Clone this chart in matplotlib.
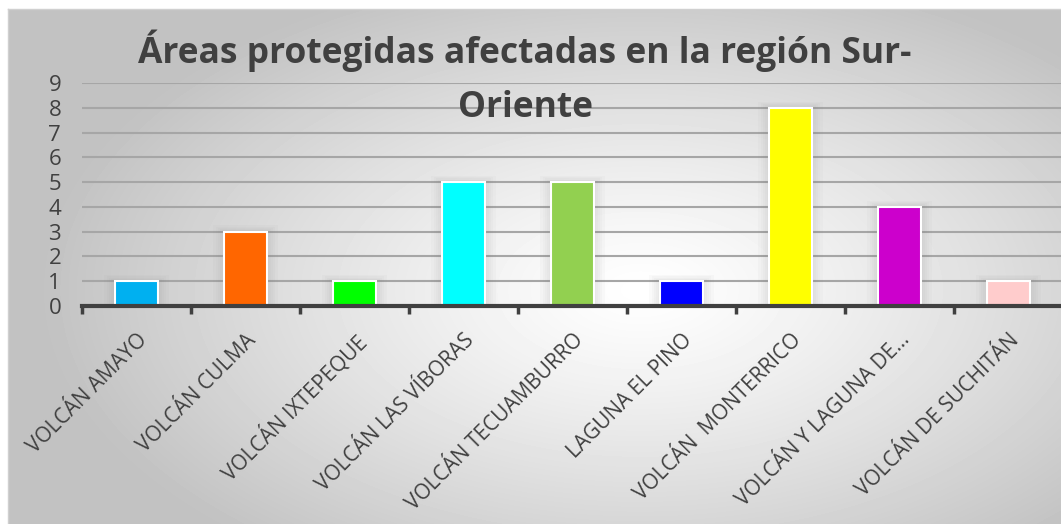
import numpy as np
import matplotlib.pyplot as plt

categories = ["VOLCÁN AMAYO", "VOLCÁN CULMA", "VOLCÁN IXTEPEQUE", "VOLCÁN LAS VÍBORAS",
              "VOLCÁN TECUAMBURRO", "LAGUNA EL PINO", "VOLCÁN  MONTERRICO",
              "VOLCÁN Y LAGUNA DE...", "VOLCÁN DE SUCHITÁN"]
values = [1, 3, 1, 5, 5, 1, 8, 4, 1]
colors = ["#00B0F0", "#FF6600", "#00FF00", "#00FFFF", "#92D050",
          "#0000FF", "#FFFF00", "#CC00CC", "#FFCCCC"]
title = "Áreas protegidas afectadas en la región Sur-\nOriente"

W, H = 1061, 524
fig = plt.figure(figsize=(W / 100, H / 100), dpi=100)
fig.patch.set_facecolor("white")

# radial gray-to-white background of the chart area
bg = fig.add_axes([8 / W, 0, 1 - 8 / W, (H - 9) / H], zorder=0)
xx, yy = np.meshgrid(np.arange(8, W), np.arange(9, H))
r = np.sqrt(((xx - 640) / 600) ** 2 + ((yy - 290) / 330) ** 2)
shade = 1 - 0.24 * np.clip(r, 0, 1) ** 1.2
bg.imshow(shade, cmap="gray", vmin=0, vmax=1, aspect="auto", interpolation="bilinear")
bg.set_axis_off()
fig.add_artist(plt.Line2D([8 / W, 8 / W], [0, (H - 9) / H], color="#d0d0d0", lw=1))
fig.add_artist(plt.Line2D([8 / W, 1], [(H - 9) / H, (H - 9) / H], color="#d0d0d0", lw=1))

ax = fig.add_axes([82 / W, (H - 306) / H, 981 / W, (306 - 83) / H], zorder=1)
ax.patch.set_alpha(0)
x = np.arange(len(values))

# soft glow behind bars
for k in range(5):
    ax.bar(x, [v + 0.05 * (k + 1) for v in values], width=0.39 + 0.04 * (k + 1),
           color="#808080", alpha=0.035, linewidth=0, zorder=1)
ax.bar(x, values, width=0.39, color=colors, edgecolor="white", linewidth=1.5, zorder=3)

ax.set_xlim(-0.5, len(values) - 0.5)
ax.set_ylim(0, 9)
ax.set_yticks(range(10))
ax.yaxis.grid(True, color="#a6a6a6", lw=1.5, zorder=0)
ax.set_axisbelow(True)
for s in ["top", "right", "left"]:
    ax.spines[s].set_visible(False)
ax.spines["bottom"].set_color("#404040")
ax.spines["bottom"].set_linewidth(3)
ax.spines["bottom"].set_zorder(4)

ax.tick_params(axis="y", length=0, pad=15, labelsize=16, labelcolor="#404040")
ax.set_xticks(x - 0.5, minor=False)
ax.set_xticklabels([])
ax.tick_params(axis="x", which="major", length=6, width=2.5, color="#404040")
ax.set_xticks(x, minor=True)
ax.set_xticklabels(categories, minor=True, rotation=45, ha="right", va="top",
                   rotation_mode="anchor", fontsize=15, color="#404040")
ax.tick_params(axis="x", which="minor", length=0, pad=17)
for lab in ax.get_yticklabels() + ax.get_xticklabels(minor=True):
    lab.set_family("Open Sans")

fig.text(525 / W, 1 - 30 / H, title, ha="center", va="top", fontsize=25.5,
         fontweight="bold", color="#404040", family="Open Sans", linespacing=1.65)

fig.savefig("out.png", dpi=100, facecolor=fig.get_facecolor())
